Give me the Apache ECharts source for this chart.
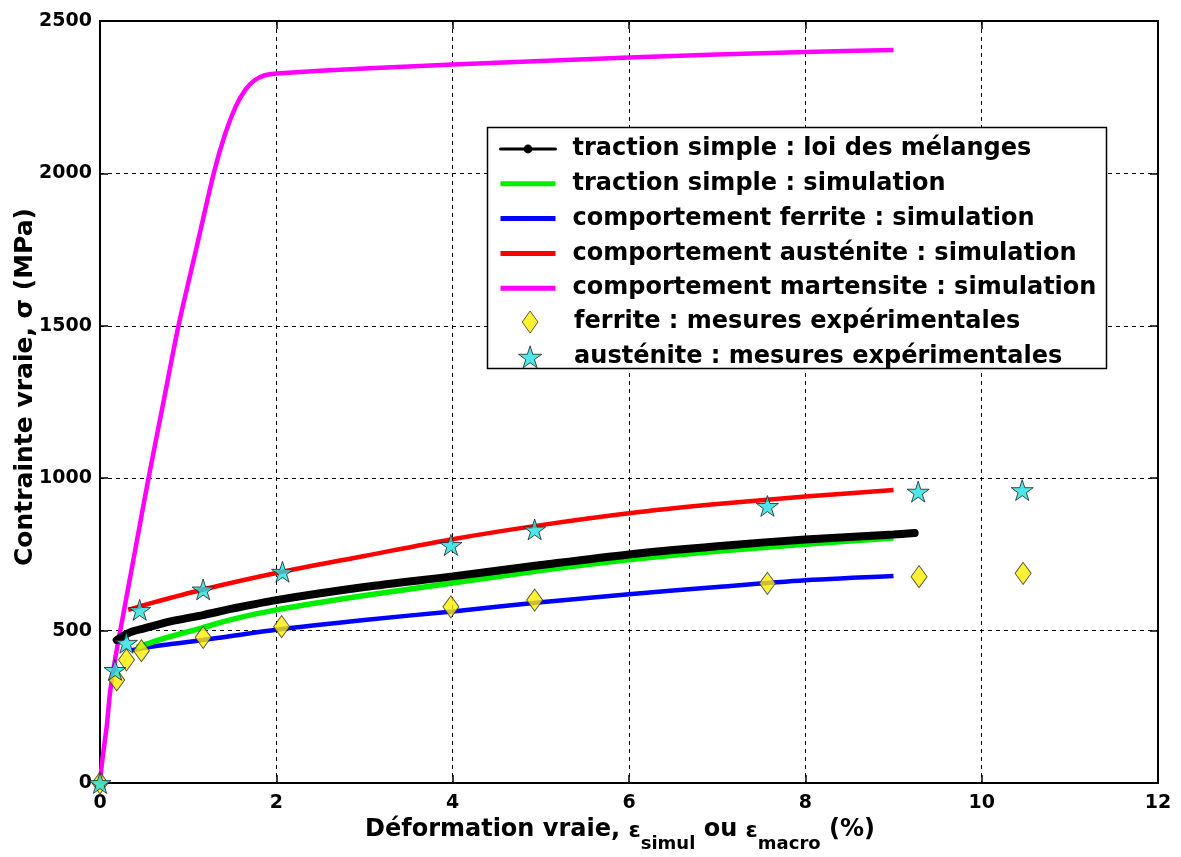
<!DOCTYPE html>
<html>
<head>
<meta charset="utf-8">
<script src="https://cdn.jsdelivr.net/npm/echarts@6/dist/echarts.min.js"></script>
<style>
html,body{margin:0;padding:0;background:#fff;}
#chart{width:1181px;height:857px;}
</style>
</head>
<body>
<div id="chart"></div>
<script>
// ---- data (x: déformation %, y: contrainte MPa) ----
const xTicks = [0, 2, 4, 6, 8, 10, 12];
const yTicks = [0, 500, 1000, 1500, 2000, 2500];

const melanges = [[0.19,469],[0.34,494],[0.5,507],[0.8,530],[1.17,551],[1.5,572],[2,600],[3,643],[4,678],[5,715],[6,750],[7,777],[8,799],[9,815],[9.24,820]];
const tractionSim = [[0.42,445],[0.7,472],[1.17,510],[1.5,537],[2,568],[3,615],[4,656],[5,697],[6,732],[7,760],[8,783],[9,804]];
const ferriteSim = [[0.36,436],[0.6,448],[1.17,469],[2,503],[3,535],[4,563],[5,593],[6,619],[7,643],[8,665],[9,679]];
const austeniteSim = [[0.32,568],[0.6,592],[1.17,635],[2,689],[3,745],[4,800],[5,846],[6,885],[7,915],[8,940],[9,961]];
const martensiteSim = [[0,0],[0.026,75],[0.076,185],[0.113,294],[0.17,404],[0.23,500],[0.39,750],[0.55,1000],[0.72,1250],[0.89,1500],[1.09,1750],[1.29,2000],[1.42,2130],[1.54,2220],[1.65,2275],[1.75,2305],[1.87,2322],[2,2328],[3,2344],[4,2357],[5,2369],[6,2380],[7,2390],[8,2398],[9,2405]];
const ferriteExp = [[0,0],[0.19,338],[0.3,404],[0.47,434],[1.17,478],[2.06,513],[3.98,578],[4.93,600],[7.57,655],[9.29,677],[10.47,688]];
const austeniteExp = [[0,0],[0.17,371],[0.3,460],[0.45,568],[1.17,635],[2.07,693],[3.98,781],[4.93,832],[7.57,909],[9.28,956],[10.46,961]];

const names = [
  'traction simple : loi des mélanges',
  'traction simple : simulation',
  'comportement ferrite : simulation',
  'comportement austénite : simulation',
  'comportement martensite : simulation',
  'ferrite : mesures expérimentales',
  'austénite : mesures expérimentales'
];

const FONT = 'DejaVu Sans';
const starPath = 'path://M50,0 L61,35 L98,35 L68,57 L79,91 L50,70 L21,91 L32,57 L2,35 L39,35 Z';
const diamondPath = 'path://M5,0 L10,7 L5,14 L0,7 Z';

const chart = echarts.init(document.getElementById('chart'), null, {renderer: 'canvas'});

const axisCommon = {
  axisLine: {show: true, onZero: false, lineStyle: {color: '#000', width: 2}},
  axisTick: {show: true, inside: true, length: 8, lineStyle: {color: '#000', width: 1.5}},
};
const tickLabel = {color: '#000', fontFamily: FONT, fontWeight: 'bold', fontSize: 19, formatter: v => String(v)};

const option = {
  backgroundColor: '#fff',
  animation: false,
  grid: {left: 100, top: 21, right: 23, bottom: 74, containLabel: false, outerBoundsMode: 'none'},
  xAxis: [
    Object.assign({
      type: 'value', min: xTicks[0], max: xTicks[xTicks.length - 1], interval: 2, position: 'bottom',
      axisLabel: Object.assign({margin: 11}, tickLabel),
      splitLine: {show: true, lineStyle: {color: '#000', width: 1, type: [4, 4]}},
      name: '{t|Déformation vraie, }{e|ε}{s|simul}{t| ou }{e|ε}{s|macro}{t| (%)}',
      nameLocation: 'middle', nameGap: 35, nameMoveOverlap: false,
      nameTextStyle: {
        color: '#000', fontFamily: FONT, fontWeight: 'bold', fontSize: 24, padding: [0, 18, 0, 0],
        rich: {
          t: {fontFamily: FONT, fontWeight: 'bold', fontSize: 24, color: '#000', verticalAlign: 'top', lineHeight: 24},
          e: {fontFamily: FONT, fontSize: 22, color: '#000', verticalAlign: 'top', lineHeight: 24, padding: [2, 0, 0, 0]},
          s: {fontFamily: FONT, fontWeight: 'bold', fontSize: 18, color: '#000', verticalAlign: 'top', lineHeight: 18, padding: [17, 0, 0, 0]}
        }
      }
    }, axisCommon),
    Object.assign({
      type: 'value', min: xTicks[0], max: xTicks[xTicks.length - 1], interval: 2, position: 'top',
      axisLabel: {show: false}, splitLine: {show: false}
    }, axisCommon)
  ],
  yAxis: [
    Object.assign({
      type: 'value', min: yTicks[0], max: yTicks[yTicks.length - 1], interval: 500, position: 'left',
      axisLabel: Object.assign({margin: 8}, tickLabel),
      splitLine: {show: true, lineStyle: {color: '#000', width: 1, type: [4, 4]}},
      name: 'Contrainte vraie, σ (MPa)',
      nameLocation: 'middle', nameGap: 62, nameRotate: 90, nameMoveOverlap: false,
      nameTextStyle: {color: '#000', fontFamily: FONT, fontWeight: 'bold', fontSize: 25, padding: [0, 0, 0, 30]}
    }, axisCommon),
    Object.assign({
      type: 'value', min: yTicks[0], max: yTicks[yTicks.length - 1], interval: 500, position: 'right',
      axisLabel: {show: false}, splitLine: {show: false}
    }, axisCommon)
  ],
  graphic: [{
    type: 'rect', z: 3,
    shape: {x: 487.5, y: 127.5, width: 619, height: 241},
    style: {fill: '#fff', stroke: '#000', lineWidth: 1.5}
  }],
  legend: [
    {
      data: names.slice(0, 5).map((n, i) => i === 0
        ? {name: n, lineStyle: {width: 3}}
        : {name: n, itemStyle: {opacity: 0}, lineStyle: {width: 5}}),
      orient: 'vertical', left: 498, top: 137, padding: 0,
      itemWidth: 55, itemHeight: 11, itemGap: 10.8, z: 5,
      selectedMode: false,
      textStyle: {color: '#000', fontFamily: FONT, fontWeight: 'bold', fontSize: 24, lineHeight: 24, padding: [0, 0, 0, 12]}
    },
    {
      data: [
        {name: names[5], icon: diamondPath, itemStyle: {color: '#ffee00', borderColor: '#333', borderWidth: 1}},
        {name: names[6], icon: starPath, itemStyle: {color: '#22e0e0', borderColor: '#222', borderWidth: 1}}
      ],
      orient: 'vertical', left: 518, top: 310, padding: 0,
      itemWidth: 50, itemHeight: 22, itemGap: 10.8, z: 5,
      selectedMode: false, symbolKeepAspect: true,
      textStyle: {color: '#000', fontFamily: FONT, fontWeight: 'bold', fontSize: 24, lineHeight: 24, padding: [0, 0, 0, 14]}
    }
  ],
  series: [
    {name: names[4], type: 'line', data: martensiteSim, symbol: 'none', smooth: 0.25, color: '#ff00ff', lineStyle: {width: 4.5, color: '#ff00ff'}, z: 2},
    {name: names[3], type: 'line', data: austeniteSim, symbol: 'none', smooth: 0.3, color: '#ff0000', lineStyle: {width: 4.5, color: '#ff0000'}, z: 2},
    {name: names[2], type: 'line', data: ferriteSim, symbol: 'none', smooth: 0.3, color: '#0000ff', lineStyle: {width: 4.5, color: '#0000ff'}, z: 2},
    {name: names[1], type: 'line', data: tractionSim, symbol: 'none', smooth: 0.3, color: '#00ee00', lineStyle: {width: 5.5, color: '#00ee00'}, z: 2},
    {name: names[0], type: 'line', data: melanges, symbol: 'none', smooth: 0.3, color: '#000', lineStyle: {width: 8, color: '#000', cap: 'round'}, z: 2},
    {name: names[5], type: 'scatter', data: ferriteExp, symbol: 'diamond', symbolSize: [16, 22],
      itemStyle: {color: '#ffee00', borderColor: '#333', borderWidth: 1}, z: 3},
    {name: names[6], type: 'scatter', data: austeniteExp, symbol: starPath, symbolSize: 22, symbolKeepAspect: true,
      itemStyle: {color: '#22e0e0', borderColor: '#222', borderWidth: 1}, z: 3}
  ]
};
chart.setOption(option);
</script>
</body>
</html>
